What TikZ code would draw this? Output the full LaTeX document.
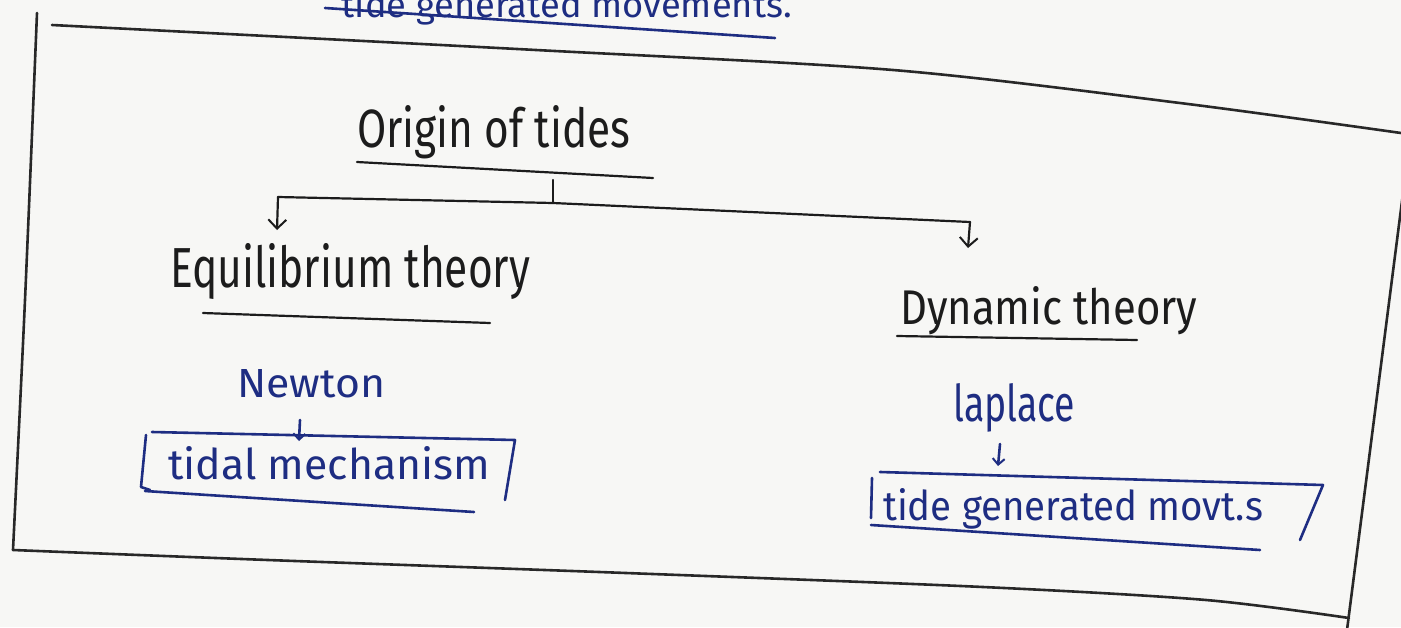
\documentclass[tikz,border=0pt]{standalone}
\usepackage{fontspec}
\setmainfont{Fira Sans}
\usepackage{graphicx}
\usetikzlibrary{arrows.meta}
\definecolor{inkblue}{RGB}{30,45,130}
\definecolor{inkblack}{RGB}{28,28,28}
\definecolor{frameink}{RGB}{40,40,40}
\definecolor{paper}{RGB}{247,247,245}
\newcommand{\hwtext}[3]{\resizebox{#1pt}{#2pt}{#3}}
\begin{document}
\begin{tikzpicture}[x=1pt,y=-1pt,
  txt/.style={inner sep=0pt,anchor=base west},
  blk/.style={txt,text=inkblack},
  blu/.style={txt,text=inkblue},
  frame/.style={draw=frameink,line width=2.6pt,line cap=round,line join=round},
  conn/.style={draw=inkblack,line width=2.2pt,line cap=round,line join=round},
  bline/.style={draw=inkblue,line width=2.6pt,line cap=round,line join=round},
  tip/.style={-{Straight Barb[length=9pt,width=18pt,line width=2pt]}},
  btip/.style={-{Straight Barb[length=6pt,width=12pt,line width=2pt]}},
]
\useasboundingbox (0,0) rectangle (1401,627);
\fill[paper] (0,0) rectangle (1401,627);
\clip (0,0) rectangle (1401,627);

% clipped heading above the frame
\node[blu,anchor=base east] (top) at (792,17) {\hwtext{450}{28}{tide generated movements.}};
\draw[bline] (325,8) -- (775,38);

% frame
\draw[frame] plot[smooth] coordinates {(37,13) (25,300) (13,550)};
\draw[frame] plot[smooth] coordinates {(52,25) (536,50) (893,70) (1180,103) (1401,133)};
\draw[frame] plot[smooth] coordinates {(13,550) (268,560) (626,573) (983,587) (1206,600) (1349,618)};
\draw[frame] (1406,170) -- (1347,630);

% title
\node[blk] (origin) at (357,147) {\hwtext{273}{42}{Origin of tides}};
\draw[conn] (357,162) -- (653,178);

% branches
\coordinate (ostem) at (553,180);
\coordinate (split) at (553,203);
\coordinate (lc) at (278,197);
\coordinate (rc) at (970,222);
\coordinate (lt) at (277,230);
\coordinate (rt) at (968,248);
\draw[conn] (ostem) -- (split);
\draw[conn] (lc) -- (split) -- (rc);
\draw[conn,tip] (lc) -- (lt);
\draw[conn,tip] (rc) -- (rt);

\node[blk] (eq) at (170,287) {\hwtext{360}{44}{Equilibrium theory}};
\draw[conn] (203,313) -- (490,323);
\node[blk] (dyn) at (900,324) {\hwtext{297}{38}{Dynamic theory}};
\draw[conn] (897,336) -- (1137,340);

% left column
\node[blu] (newton) at (237,397) {\hwtext{148}{28}{Newton}};
\coordinate (na) at (300,420);
\coordinate (nb) at (299,441);
\draw[bline,btip] (na) -- (nb);
\node[blu] (tidal) at (168,479) {\hwtext{322}{33}{tidal mechanism}};
\draw[bline] (150,490) -- (141,487) -- (146,435);
\draw[bline] (152,432) -- (515,440) -- (505,500);
\draw[bline] (145,491) -- (474,512);

% right column
\node[blu] (laplace) at (953,421) {\hwtext{122}{38}{laplace}};
\coordinate (la) at (1000,444);
\coordinate (lb) at (998,466);
\draw[bline,btip] (la) -- (lb);
\node[blu] (tgm) at (883,520) {\hwtext{380}{32}{tide generated movt.s}};
\draw[bline] (880,472) -- (1323,485) -- (1300,540);
\draw[bline] (872,478) -- (871,518);
\draw[bline] (871,525) -- (1260,550);
\end{tikzpicture}
\end{document}
